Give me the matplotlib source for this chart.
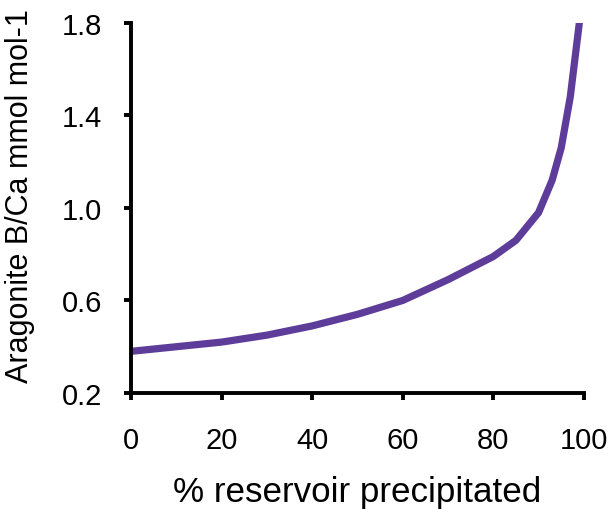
import matplotlib.pyplot as plt

plt.rcParams['font.family'] = ['Liberation Sans', 'DejaVu Sans']

pct_precip = [0, 10, 20, 30, 40, 50, 60, 70, 80, 85, 90, 93, 95, 97, 98, 99]
b_ca = [0.38, 0.40, 0.42, 0.45, 0.49, 0.54, 0.60, 0.69, 0.79, 0.86, 0.98,
        1.12, 1.26, 1.48, 1.64, 1.80]

fig = plt.figure(figsize=(6.12, 5.10), dpi=100)
ax = fig.add_axes([0.214, 0.2275, 0.74, 0.7255])

ax.plot(pct_precip, b_ca, color='#5E3C99', lw=5.2, solid_joinstyle='miter')

ax.set_xlim(0, 100)
ax.set_ylim(0.2, 1.8)
ax.set_xticks([0, 20, 40, 60, 80, 100])
ax.set_yticks([0.2, 0.6, 1.0, 1.4, 1.8])
ax.set_yticklabels(['0.2', '0.6', '1.0', '1.4', '1.8'])

for s in ['top', 'right']:
    ax.spines[s].set_visible(False)
for s in ['left', 'bottom']:
    ax.spines[s].set_linewidth(2.8)

ax.tick_params(axis='x', length=5, width=2.8, pad=19, labelsize=21)
ax.tick_params(axis='y', length=5, width=2.8, pad=16, labelsize=21)

ax.set_xlabel('% reservoir precipitated', fontsize=25.2, labelpad=15)
ax.set_ylabel('Aragonite B/Ca mmol mol-1', fontsize=22, loc='bottom')
ax.yaxis.set_label_coords(-0.213, 0.03)

fig.savefig('out.png', dpi=100)
